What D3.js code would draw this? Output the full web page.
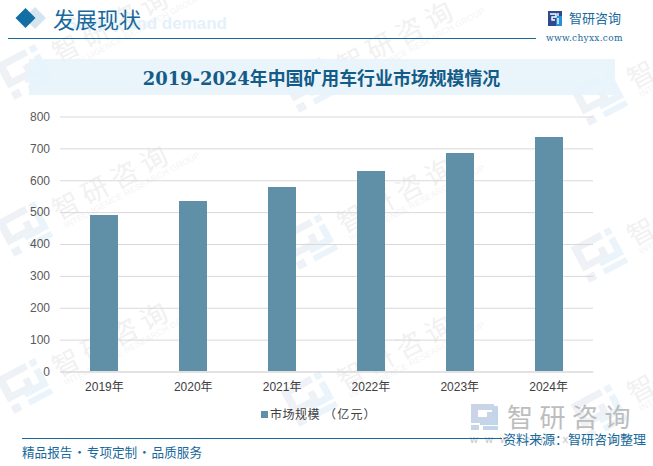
<!DOCTYPE html>
<html><head><meta charset="utf-8">
<script src="https://cdn.jsdelivr.net/npm/d3@7"></script>
<style>html,body{margin:0;padding:0;background:#fff}svg{display:block}</style>
</head><body><div id="c"></div>
<script>
const categories=["2019年","2020年","2021年","2022年","2023年","2024年"];
const values=[491,535,579,629,685,735];
const yTicks=[0,100,200,300,400,500,600,700,800];
const seriesName="市场规模";
const seriesUnit="（亿元）";
const title="2019-2024年中国矿用车行业市场规模情况";
const heading="发展现状";
const sourceText="资料来源：智研咨询整理";
const footerText="精品报告 · 专项定制 · 品质服务";
const brand="智研咨询";
const site="www.chyxx.com";
const wmEnglish="INTELLIGENCE RESEARCH GROUP";
const wmSpots=[[28,70],[28,227],[28,384],[313,83],[313,240],[313,397],[603,96],[603,253],[603,410]];

const W=653,H=466;
const svg=d3.select("#c").append("svg").attr("width",W).attr("height",H).attr("viewBox",[0,0,W,H]);
const sans="'Liberation Sans','Noto Sans CJK SC',sans-serif";
const cjk="'Noto Sans CJK SC',sans-serif";
const serif="'DejaVu Serif','Noto Sans CJK SC',serif";

// watermarks
const wm=svg.append("g");
wmSpots.forEach(([x,y])=>{
  const g=wm.append("g").attr("transform",`translate(${x},${y}) rotate(-28)`);
  g.append("path").attr("d","M-26,-20h33v7h-25v13h15v-6h7v13h-30zM-26,12h9v8h-9z").attr("fill","#eef1f5");
  g.append("path").attr("d","M11,-20h7v7h-7zM11,-9h7v20h-26v-7h19zM-8,14h26v6h-26z").attr("fill","#ebf4fa");
  g.append("text").attr("x",30).attr("y",9).attr("font-family",cjk).attr("font-size",27).attr("letter-spacing",6).attr("fill","#f1f1f2").text(brand);
  g.append("text").attr("x",33).attr("y",19).attr("font-family",sans).attr("font-size",8.5).attr("letter-spacing",.3).attr("fill","#f4f4f5").text(wmEnglish);
});

// header
svg.append("text").attr("x",227).attr("y",29).attr("text-anchor","end").attr("font-family",sans).attr("font-weight","bold").attr("font-size",17).attr("fill","#e4f1fa").text("Supply and demand");
svg.append("path").attr("d","M35,7L46,18L35,29L24,18Z").attr("fill","#d5e5ef");
svg.append("path").attr("d","M25.5,8L35.5,18L25.5,28L15.5,18Z").attr("fill","#146ea6");
svg.append("text").attr("x",53).attr("y",28).attr("font-family",cjk).attr("font-size",22).attr("fill","#17699c").text(heading);
svg.append("line").attr("x1",8).attr("x2",536).attr("y1",38.5).attr("y2",38.5).attr("stroke","#17699c").attr("stroke-width",1.2);
// logo
const logo=svg.append("g").attr("transform","translate(548,11)");
logo.append("rect").attr("width",14).attr("height",15).attr("fill","#2e4a8f");
logo.append("rect").attr("x",8).attr("y",5).attr("width",6).attr("height",10).attr("fill","#2a8fd6");
logo.append("path").attr("d","M2,3h6v3h-4v3h3M10,2v3M10,7v6").attr("stroke","#fff").attr("stroke-width",1.4).attr("fill","none");
svg.append("text").attr("x",569).attr("y",23).attr("font-family",cjk).attr("font-size",13).attr("fill","#17699c").text(brand);
svg.append("text").attr("x",546).attr("y",41).attr("font-family","'DejaVu Serif',serif").attr("font-size",9).attr("letter-spacing",.3).attr("fill","#17699c").text(site);

// title band
svg.append("rect").attr("x",29).attr("y",59).attr("width",586).attr("height",36).attr("fill","#e7f3fb").attr("fill-opacity",.92);
svg.append("text").attr("x",321.5).attr("y",85).attr("text-anchor","middle").attr("font-family",serif).attr("font-weight","bold").attr("font-size",17.9).attr("fill","#145c87").text(title);

// chart
const x=d3.scaleBand().domain(categories).range([60,593]).paddingInner(0);
const y=d3.scaleLinear().domain([0,800]).range([371.5,116.5]);
const gy=svg.append("g").attr("transform","translate(60,0)")
  .call(d3.axisLeft(y).tickValues(yTicks).tickSize(-533).tickPadding(10));
gy.select(".domain").remove();
gy.selectAll(".tick line").attr("stroke","#d9d9d9").attr("stroke-width",1);
gy.selectAll("text").attr("font-family",sans).attr("font-size",12).attr("fill","#595959");

const bw=28;
svg.append("g").selectAll("rect").data(values).join("rect")
  .attr("x",(d,i)=>Math.round(x(categories[i])+x.bandwidth()/2-bw/2))
  .attr("width",bw)
  .attr("y",d=>Math.round(y(d)))
  .attr("height",d=>371-Math.round(y(d)))
  .attr("fill","#5f90a8");

const gx=svg.append("g").attr("transform","translate(0,371.5)").call(d3.axisBottom(x).tickSize(0).tickPadding(11));
gx.select(".domain").attr("stroke","#d9d9d9");
gx.selectAll("text").attr("font-family",sans).attr("font-size",12).attr("fill","#404040");

// legend
svg.append("rect").attr("x",261).attr("y",411).attr("width",7).attr("height",7).attr("fill","#5f90a8");
const lg=svg.append("text").attr("x",270).attr("y",419).attr("font-family",cjk).attr("font-size",12).attr("letter-spacing",.5).attr("fill","#404040");
lg.append("tspan").text(seriesName);
lg.append("tspan").attr("dx",4).attr("letter-spacing",1.2).text(seriesUnit);

// footer
const wl=svg.append("g");
wl.append("path").attr("d","M471,404h23v6h-16v7h9v-5h7v11h-23zM471,425h8v5h-8z").attr("fill","#c9d4e6");
wl.append("path").attr("d","M492,406h6v19h-18v-5h12zM483,426h15v4h-15z").attr("fill","#c3d5ea");
wl.append("text").attr("x",507).attr("y",427).attr("font-family",cjk).attr("font-size",26).attr("letter-spacing",6.5).attr("fill","#bdbdbd").text(brand);
wl.append("text").attr("x",470).attr("y",443).attr("font-family",sans).attr("font-size",11).attr("letter-spacing",7).attr("fill","#c4c4c4").text(site);
svg.append("line").attr("x1",22).attr("x2",502).attr("y1",438.5).attr("y2",438.5).attr("stroke","#17699c").attr("stroke-width",1.2);
svg.append("text").attr("x",503).attr("y",444).attr("font-family",cjk).attr("font-size",13).attr("fill","#17699c").text(sourceText);
svg.append("text").attr("x",22).attr("y",457).attr("font-family",cjk).attr("font-size",12.6).attr("word-spacing",-1.9).attr("fill","#17699c").text(footerText);
</script></body></html>
